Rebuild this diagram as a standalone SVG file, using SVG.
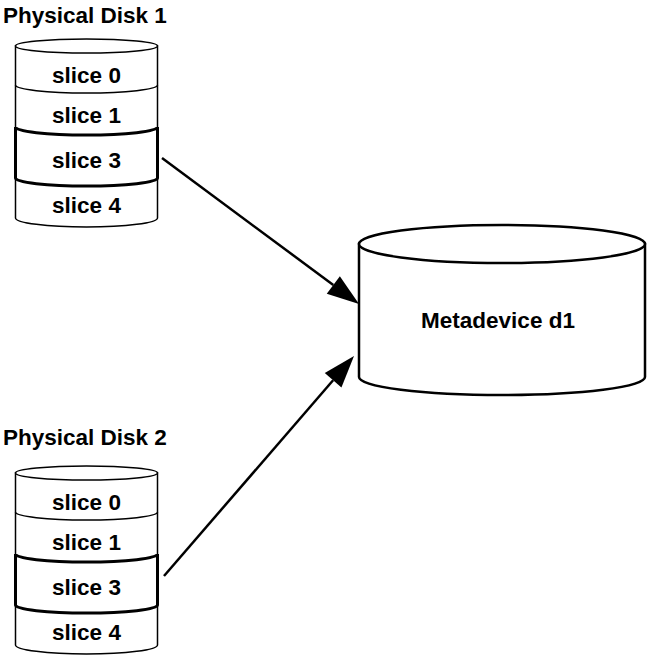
<svg xmlns="http://www.w3.org/2000/svg" width="648" height="655" viewBox="0 0 648 655">
  <style>
    .lbl { font-family: "Liberation Sans", Arial, sans-serif; font-weight: bold; font-size: 22.5px; fill: #000; }
    .mid { text-anchor: middle; }
    .thin { fill: none; stroke: #000; stroke-width: 1.5; }
    .thick { fill: none; stroke: #000; stroke-width: 3; }
    .body { fill: #fff; stroke: #000; stroke-width: 1.5; }
    .meta { fill: #fff; stroke: #000; stroke-width: 2.5; }
    .conn { fill: none; stroke: #000; stroke-width: 2.5; }
  </style>
  <defs>
    <marker id="head" markerUnits="userSpaceOnUse" markerWidth="34" markerHeight="24" refX="0" refY="12" orient="auto" overflow="visible">
      <path d="M0,1 L32,12 L0,23 Z" fill="#000"/>
    </marker>
    <!-- stacked slice disk, drawn at the origin of disk 1 -->
    <g id="disk">
      <path class="body" d="M15.5,46 V218 A71,9 0 0 0 157.5,218 V46 Z"/>
      <ellipse class="body" cx="86.5" cy="46" rx="71" ry="7"/>
      <path class="thin" d="M15.5,85 A71,8 0 0 0 157.5,85"/>
      <path class="thick" d="M15.5,127 A71,8 0 0 0 157.5,127 M15.5,178 A71,8 0 0 0 157.5,178 M15.5,127 V178 M157.5,127 V178"/>
      <text class="lbl mid" x="86.5" y="83">slice 0</text>
      <text class="lbl mid" x="86.5" y="123">slice 1</text>
      <text class="lbl mid" x="86.5" y="168">slice 3</text>
      <text class="lbl mid" x="86.5" y="213">slice 4</text>
    </g>
  </defs>

  <g id="disk1">
    <text class="lbl" x="3" y="23">Physical Disk 1</text>
    <use href="#disk"/>
  </g>

  <g id="disk2">
    <text class="lbl" x="3" y="445">Physical Disk 2</text>
    <use href="#disk" transform="translate(0,427)"/>
  </g>

  <g id="metadevice">
    <path class="meta" d="M359,244 V377 A143,18 0 0 0 645,377 V244 Z"/>
    <ellipse class="meta" cx="502" cy="244" rx="143" ry="19"/>
    <text class="lbl mid" x="498" y="328">Metadevice d1</text>
  </g>

  <g id="connectors">
    <line class="conn" x1="162" y1="158" x2="333.3" y2="285" marker-end="url(#head)"/>
    <line class="conn" x1="164" y1="576" x2="333.1" y2="380.2" marker-end="url(#head)"/>
  </g>
</svg>
